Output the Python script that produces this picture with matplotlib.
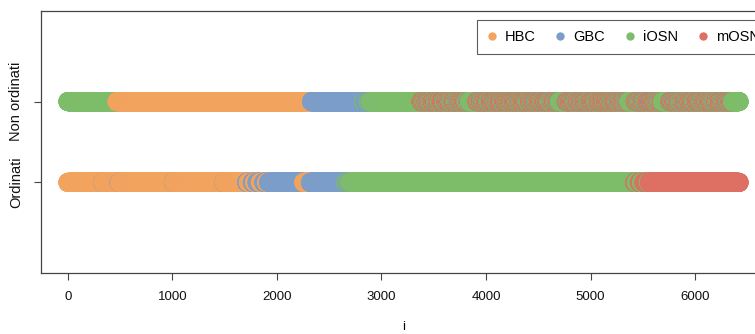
import numpy as np
import matplotlib
matplotlib.use("Agg")
import matplotlib.pyplot as plt
from matplotlib.lines import Line2D

plt.rcParams['font.family'] = ['Liberation Sans', 'DejaVu Sans']

cell_types = ["HBC", "GBC", "iOSN", "mOSN"]
type_colors = ["#F2A35E", "#7B9DC9", "#7DBD6A", "#DE6F63"]
row_labels = ["Ordinati", "Non ordinati"]

# ordered cells, as runs of (type, number of cells)
ordered_runs = [
    ("HBC", 331), ("GBC", 3), ("HBC", 156), ("GBC", 3), ("HBC", 517),
    ("GBC", 3), ("HBC", 477), ("GBC", 3), ("HBC", 187),
    ("HBC", 30), ("GBC", 15), ("HBC", 40), ("GBC", 20), ("HBC", 25),
    ("GBC", 30), ("HBC", 35), ("GBC", 25), ("HBC", 20), ("GBC", 48),
    ("GBC", 287), ("HBC", 65), ("GBC", 336),
    ("iOSN", 12), ("GBC", 10), ("iOSN", 14), ("GBC", 8), ("iOSN", 2700),
    ("iOSN", 20), ("mOSN", 15), ("iOSN", 30), ("mOSN", 20),
    ("iOSN", 25), ("mOSN", 40), ("iOSN", 10), ("mOSN", 40),
    ("mOSN", 820),
]

# unordered cells: leading runs ...
unordered_head = [
    ("iOSN", 470), ("HBC", 1860),
    ("GBC", 500), ("iOSN", 12), ("GBC", 30), ("iOSN", 10), ("GBC", 8),
    ("iOSN", 440),
]
# ... then a mixed stretch, one letter per block of 5 cells
# i = iOSN, m = mOSN, g = GBC
mixed_block = 5
mixed_cells = (
    "iiiiiiiiim" "imimmimiim" "mimgimmiim" "immimimigm" "imimmiimim" "mmimiigmim"
    "imimmimiig" "mimmimimim" "imgimmimim" "imimmimiig" "imiiiiiiii" "iiiiiimimm"
    "imimmigimm" "imimimmimi" "gimmimimim" "mimigmimim" "mimmimiimg" "mimmimimim"
    "imimgimmim" "immimimigm" "imimmimimi" "mmimigimmi" "mimimmimig" "mimimmimim"
    "imigmimmim" "mimmimigim" "imimmimimg" "imimiiiiii" "iiiiiiimim" "mgimmimimi"
    "mimmigimim" "mimimmimig" "mimmimimim" "igimmimimi" "mimmigimim" "mimimmimim"
    "gimmimimim" "mimigmimim" "mimmimimgi" "mimimmimim" "igimmimiii" "iiiiiiiiim"
    "immimigmim" "imimmimigi" "mimmimimmg" "imimimmimi" "mimigmimim" "miiiiiiiii"
    "iiiiimimmi" "mgimimmimi" "mimmigimim" "imimmimigi" "mimmimimim" "migimimmim"
    "imimmigimi" "mimimmimig" "mimimmimim" "igimmimimi" "mmimimigmi" "mimimmimgi"
    "mimimi" "iiiiiiiiiiii"
)
code_type = {"i": "iOSN", "m": "mOSN", "g": "GBC"}

unordered_runs = list(unordered_head) + [(code_type[c], mixed_block) for c in mixed_cells]


def expand(runs):
    return np.concatenate([np.repeat(t, n) for t, n in runs])


color_of = dict(zip(cell_types, type_colors))

fig = plt.figure(figsize=(7.55, 3.34), dpi=100)
ax = fig.add_axes([41 / 755, 1 - 273 / 334, (766 - 41) / 755, (273 - 11) / 334])

for row, runs in enumerate([ordered_runs, unordered_runs], start=1):
    labels = expand(runs)
    x = np.arange(1, len(labels) + 1)
    ax.scatter(x, np.full(len(x), row), c=[color_of[t] for t in labels],
               s=190, linewidths=0, alpha=0.85)

n = len(expand(ordered_runs))
pad = 0.04 * (n - 1)
ax.set_xlim(1 - pad, n + pad)
ax.set_ylim(-0.12, 3.12)

ax.set_xticks(range(0, 7000, 1000))
ax.set_yticks([1, 2], row_labels, rotation=90, va='center')
ax.tick_params(axis='both', length=5, width=0.8, color='#444444',
               labelsize=9.5, labelcolor='#111111', pad=8)
ax.tick_params(axis='y', labelsize=10.5)
ax.set_xlabel('i', fontsize=9.5, labelpad=13)
for s in ax.spines.values():
    s.set_color('#444444')
    s.set_linewidth(0.9)

handles = [Line2D([], [], marker='o', ls='', color=c, markersize=5) for c in type_colors]
leg = fig.legend(handles, cell_types, loc='upper left',
                 bbox_to_anchor=(477 / 755, 1 - 20 / 334), ncol=4,
                 fontsize=10.5, frameon=True, fancybox=False,
                 edgecolor='#333333', borderaxespad=0, borderpad=0.7,
                 handlelength=0.6, handletextpad=0.6, columnspacing=1.4)
leg.get_frame().set_linewidth(0.8)

fig.savefig('out.png', dpi=100)
